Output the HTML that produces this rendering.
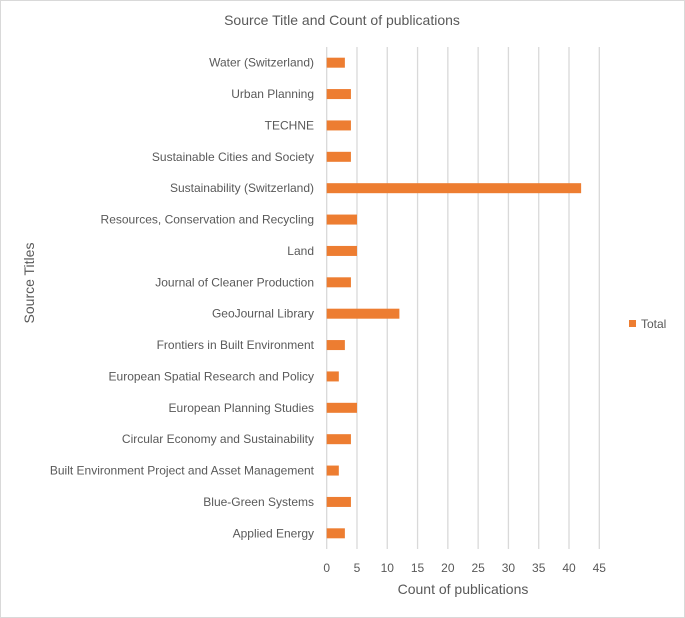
<!DOCTYPE html>
<html><head><meta charset="utf-8"><style>
html,body{margin:0;padding:0;background:#fff}
svg{display:block;font-family:"Liberation Sans",sans-serif}
</style></head><body>
<svg id="c" width="685" height="618">
<rect x="0.5" y="0.5" width="684" height="617" fill="#fff" stroke="#d9d9d9"/>
<text x="342" y="25" text-anchor="middle" font-size="14" fill="#595959">Source Title and Count of publications</text>
<text transform="translate(34,283) rotate(-90)" text-anchor="middle" font-size="14" fill="#595959">Source Titles</text>
<text x="463" y="594" text-anchor="middle" font-size="14" fill="#595959">Count of publications</text>
<g><rect x="629" y="320" width="7" height="7" fill="#ed7d31"/><text x="641" y="328" font-size="12" fill="#595959">Total</text></g>
<g id="grid"></g><g id="bars"></g><g id="labels"></g>
</svg>
<script>
const categories=["Water (Switzerland)","Urban Planning","TECHNE","Sustainable Cities and Society","Sustainability (Switzerland)","Resources, Conservation and Recycling","Land","Journal of Cleaner Production","GeoJournal Library","Frontiers in Built Environment","European Spatial Research and Policy","European Planning Studies","Circular Economy and Sustainability","Built Environment Project and Asset Management","Blue-Green Systems","Applied Energy"];
const values=[3,4,4,4,42,5,5,4,12,3,2,5,4,2,4,3];
const ticks=[0,5,10,15,20,25,30,35,40,45];
const NS="http://www.w3.org/2000/svg";
const x0=326.7,x1=599.3,yTop=47,yBot=549;
const xs=v=>x0+v*(x1-x0)/45;
const rowH=(yBot-yTop)/categories.length;
const yc=i=>yTop+rowH*(i+0.5);
function mk(t,a,p){const e=document.createElementNS(NS,t);for(const k in a)e.setAttribute(k,a[k]);p.appendChild(e);return e;}
const g=document.getElementById('grid'),b=document.getElementById('bars'),l=document.getElementById('labels');
ticks.forEach(t=>{const ln=mk('line',{x1:xs(t),x2:xs(t),y1:yTop,y2:yBot,stroke:'#d9d9d9','stroke-width':1.3},g);


const tx=mk('text',{x:xs(t),y:572,'text-anchor':'middle','font-size':12,fill:'#595959'},l);tx.textContent=t;

});
categories.forEach((c,i)=>{const r=mk('rect',{x:xs(0),y:yc(i)-5,width:xs(values[i])-xs(0),height:10,fill:'#ed7d31'},b);


const tx=mk('text',{x:314,y:yc(i)+4,'text-anchor':'end','font-size':12,fill:'#595959'},l);tx.textContent=c;

});
</script>
</body></html>
